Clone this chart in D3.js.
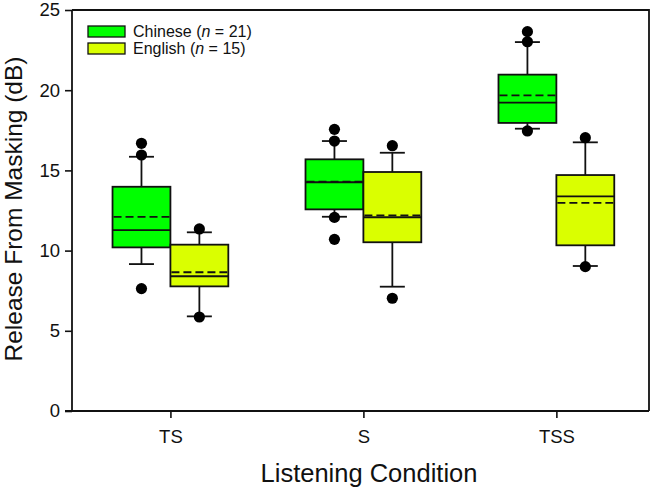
<!DOCTYPE html>
<html>
<head>
<meta charset="utf-8">
<script src="https://cdn.jsdelivr.net/npm/d3@7"></script>
<style>
  body { margin: 0; background: #fff; }
  svg { display: block; }
  text { font-family: "Liberation Sans", Arial, sans-serif; fill: #111; }
</style>
</head>
<body>
<svg id="chart" width="654" height="491"></svg>
<script>
// ---- data ----
const categories = ["TS", "S", "TSS"];
const groupNames = ["Chinese", "English"];
const groupN = [21, 15];
const groupColors = ["#00ff00", "#daff00"];

const chineseLow    = [9.16, 12.11, 17.6];
const chineseQ1     = [10.2, 12.57, 17.96];
const chineseMedian = [11.28, 14.26, 19.22];
const chineseMean   = [12.1, 14.3, 19.68];
const chineseQ3     = [13.98, 15.69, 20.97];
const chineseHigh   = [15.85, 16.83, 23.0];
const chineseOutliers = [[16.69, 15.96, 7.63], [17.56, 16.83, 12.07, 10.7], [23.65, 23.02, 17.46]];

const englishLow    = [5.9, 7.75, 9.04];
const englishQ1     = [7.77, 10.52, 10.33];
const englishMedian = [8.4, 12.08, 13.38];
const englishMean   = [8.65, 12.2, 12.97];
const englishQ3     = [10.37, 14.9, 14.71];
const englishHigh   = [11.14, 16.1, 16.75];
const englishOutliers = [[11.35, 5.86], [16.54, 7.03], [17.04, 9.0]];

const yTicks = [0, 5, 10, 15, 20, 25];

// ---- build table ----
const stats = [
  {low: chineseLow, q1: chineseQ1, med: chineseMedian, mean: chineseMean, q3: chineseQ3, high: chineseHigh, out: chineseOutliers},
  {low: englishLow, q1: englishQ1, med: englishMedian, mean: englishMean, q3: englishQ3, high: englishHigh, out: englishOutliers}
];
const boxes = [];
categories.forEach((c, ci) => {
  groupNames.forEach((g, gi) => {
    const s = stats[gi];
    boxes.push({cat: ci + 1, group: gi, low: s.low[ci], q1: s.q1[ci], med: s.med[ci],
      mean: s.mean[ci], q3: s.q3[ci], high: s.high[ci], out: s.out[ci]});
  });
});

// ---- layout ----
const L = 72, R = 649, T = 10, B = 411;
const svg = d3.select("#chart");
const x = d3.scaleLinear().domain([0.49, 3.48]).range([L, R]);
const y = d3.scaleLinear().domain([0, 25]).range([B, T]);
const boxW = 0.3; // in category units
const capHalf = 12.5;
const ink = "#111";
const sw = 1.8;

// frame (top and right)
svg.append("path")
  .attr("d", `M${L},${T}H${R}V${B}`)
  .attr("fill", "none").attr("stroke", ink).attr("stroke-width", 1.8);

// boxes
const g = svg.append("g");
boxes.forEach(b => {
  const x0 = b.group === 0 ? x(b.cat - boxW) : x(b.cat);
  const x1 = b.group === 0 ? x(b.cat) : x(b.cat + boxW);
  const xc = (x0 + x1) / 2;
  // whiskers
  g.append("line").attr("x1", xc).attr("x2", xc).attr("y1", y(b.q3)).attr("y2", y(b.high))
    .attr("stroke", ink).attr("stroke-width", sw);
  g.append("line").attr("x1", xc).attr("x2", xc).attr("y1", y(b.q1)).attr("y2", y(b.low))
    .attr("stroke", ink).attr("stroke-width", sw);
  g.append("line").attr("x1", xc - capHalf).attr("x2", xc + capHalf).attr("y1", y(b.high)).attr("y2", y(b.high))
    .attr("stroke", ink).attr("stroke-width", sw);
  g.append("line").attr("x1", xc - capHalf).attr("x2", xc + capHalf).attr("y1", y(b.low)).attr("y2", y(b.low))
    .attr("stroke", ink).attr("stroke-width", sw);
  // box
  g.append("rect").attr("x", x0).attr("y", y(b.q3)).attr("width", x1 - x0).attr("height", y(b.q1) - y(b.q3))
    .attr("fill", groupColors[b.group]).attr("stroke", ink).attr("stroke-width", sw);
  // median
  g.append("line").attr("x1", x0).attr("x2", x1).attr("y1", y(b.med)).attr("y2", y(b.med))
    .attr("stroke", ink).attr("stroke-width", sw);
  // mean (dashed)
  g.append("line").attr("x1", x0 + 1).attr("x2", x1 - 1).attr("y1", y(b.mean)).attr("y2", y(b.mean))
    .attr("stroke", ink).attr("stroke-width", sw).attr("stroke-dasharray", "8,4");
  // outliers
  b.out.forEach(v => {
    g.append("circle").attr("cx", xc).attr("cy", y(v)).attr("r", 5.6).attr("fill", "#000");
  });
});

// axes
const yAxis = svg.append("g").attr("transform", `translate(${L},0)`)
  .call(d3.axisLeft(y).tickValues(yTicks).tickSize(7).tickPadding(5).tickSizeOuter(0));
const xAxis = svg.append("g").attr("transform", `translate(0,${B})`)
  .call(d3.axisBottom(x).tickValues([1, 2, 3]).tickFormat((d, i) => categories[i]).tickSize(7).tickPadding(12).tickSizeOuter(0));
[yAxis, xAxis].forEach(a => {
  a.select(".domain").attr("stroke", ink).attr("stroke-width", 1.8);
  a.selectAll(".tick line").attr("stroke", ink).attr("stroke-width", 1.6);
  a.selectAll(".tick text").attr("font-size", 18.5).attr("font-family", "'Liberation Sans', Arial, sans-serif").attr("fill", ink);
});
yAxis.select(".domain").attr("d", `M0,${B}V${T}`);
xAxis.select(".domain").attr("d", `M${L - 7},0H${R}`);

// axis titles
svg.append("text").attr("transform", `translate(22,209) rotate(-90)`)
  .attr("text-anchor", "middle").attr("font-size", 24.5).text("Release From Masking (dB)");
svg.append("text").attr("x", 369).attr("y", 482)
  .attr("text-anchor", "middle").attr("font-size", 25.5).text("Listening Condition");

// legend
const leg = svg.append("g");
groupNames.forEach((name, i) => {
  const yy = 26 + i * 17;
  leg.append("rect").attr("x", 88).attr("y", yy).attr("width", 37).attr("height", 11)
    .attr("fill", groupColors[i]).attr("stroke", ink).attr("stroke-width", 1.3);
  const t = leg.append("text").attr("x", 133).attr("y", yy + 11).attr("font-size", 16);
  t.append("tspan").text(name + " (");
  t.append("tspan").attr("font-style", "italic").text("n");
  t.append("tspan").text(" = " + groupN[i] + ")");
});
</script>
</body>
</html>
